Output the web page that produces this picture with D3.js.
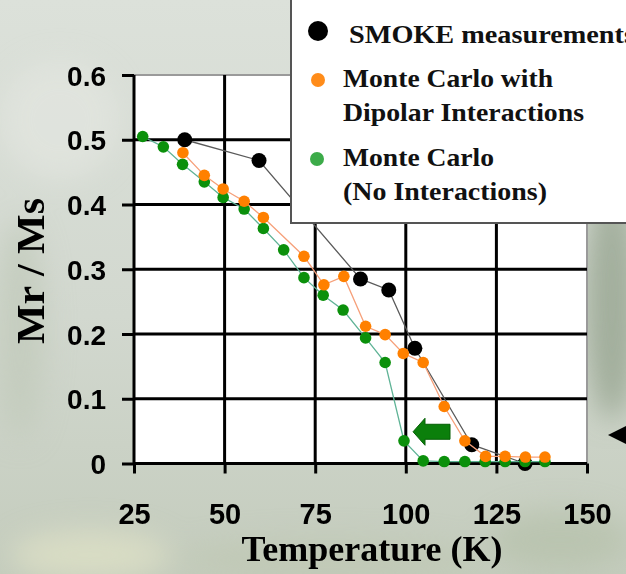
<!DOCTYPE html>
<html lang="en">
<head>
    <meta charset="UTF-8">
    <script src="https://d3js.org/d3.v7.min.js"></script>
    <title>Mr / Ms vs Temperature</title>
    <style>
      body { margin: 0; padding: 0; overflow: hidden; }
      svg { display: block; }
    </style>
</head>
<body>
    <div id="chart"></div>
<script>

// ---- data ----
var smokeT = [39, 59.5, 87.5, 95.3, 102.5, 118.2, 132.9];
var smokeV = [0.500, 0.468, 0.285, 0.268, 0.178, 0.029, 0.000];

var dipoleT = [38.5, 44.4, 49.6, 55.4, 60.7, 71.9, 77.4, 82.9, 88.9, 94.3, 99.3, 104.8, 110.6, 116.3, 122.0, 127.4, 133.0, 138.4];
var dipoleV = [0.480, 0.445, 0.424, 0.405, 0.380, 0.320, 0.276, 0.289, 0.212, 0.199, 0.170, 0.156, 0.088, 0.035, 0.011, 0.011, 0.010, 0.010];

var noIntT = [27.4, 33.1, 38.4, 44.4, 49.6, 55.4, 60.7, 66.3, 71.9, 77.2, 82.7, 88.9, 94.3, 99.5, 104.8, 110.6, 116.3, 121.9, 127.4, 132.9, 138.4];
var noIntV = [0.505, 0.489, 0.462, 0.435, 0.411, 0.393, 0.363, 0.330, 0.287, 0.260, 0.237, 0.194, 0.156, 0.035, 0.004, 0.003, 0.003, 0.003, 0.003, 0.003, 0.003];

var xTicks = [25, 50, 75, 100, 125, 150];
var yTicks = [0, 0.1, 0.2, 0.3, 0.4, 0.5, 0.6];

var legendLabels = [["SMOKE measurements"], ["Monte Carlo with", "Dipolar Interactions"], ["Monte Carlo", "(No Interactions)"]];

// green arrow annotation (temperature / value)
var arrowTip = [102.0, 0.049];
var arrowHeadBack = 105.3, arrowEnd = 112.2;

// ---- layout ----
var W = 626, H = 574;
var margin = {top: 75, right: 39, bottom: 110.5, left: 134},
    width = W - margin.left - margin.right,
    height = H - margin.top - margin.bottom;

var svg = d3.select("#chart")
  .append("svg")
    .attr("width", W)
    .attr("height", H);

// blurred photo-like background
var defs = svg.append("defs");
var bg = defs.append("linearGradient").attr("id", "bgGrad")
    .attr("x1", 0).attr("y1", 0).attr("x2", 0).attr("y2", 1);
bg.append("stop").attr("offset", "0%").attr("stop-color", "#dce1da");
bg.append("stop").attr("offset", "55%").attr("stop-color", "#d2d8cf");
bg.append("stop").attr("offset", "100%").attr("stop-color", "#c4ccbd");
defs.append("filter").attr("id", "blur")
    .attr("x", "-50%").attr("y", "-50%").attr("width", "200%").attr("height", "200%")
  .append("feGaussianBlur").attr("stdDeviation", 14);

svg.append("rect").attr("width", W).attr("height", H).attr("fill", "url(#bgGrad)");

var blobs = svg.append("g").attr("filter", "url(#blur)");
[
  [612, 300, 28, 120, "#8d9c86", 0.7],
  [615, 140, 22, 70, "#a7b2a0", 0.6],
  [20, 330, 25, 110, "#c2cbbc", 0.8],
  [90, 555, 80, 25, "#dde0c6", 0.8],
  [330, 560, 150, 20, "#bfc8b4", 0.8],
  [560, 540, 70, 30, "#b5c0aa", 0.7],
  [60, 120, 60, 60, "#e2e6df", 0.7]
].forEach(function(b) {
  blobs.append("ellipse")
    .attr("cx", b[0]).attr("cy", b[1]).attr("rx", b[2]).attr("ry", b[3])
    .attr("fill", b[4]).attr("opacity", b[5]);
});

var g = svg.append("g")
    .attr("transform", "translate(" + margin.left + "," + margin.top + ")");

// scales
var x = d3.scaleLinear().domain([25, 150]).range([0, width]);
var y = d3.scaleLinear().domain([0, 0.6]).range([height, 0]);

// white plot area with grey frame
g.append("rect")
    .attr("width", width)
    .attr("height", height)
    .attr("fill", "#ffffff")
    .attr("stroke", "#9a9a9a")
    .attr("stroke-width", 2);

// grid lines
g.append("g").selectAll("line")
  .data(yTicks.filter(function(d) { return d > 0 && d < 0.6; }))
  .enter().append("line")
    .attr("x1", 0).attr("x2", width)
    .attr("y1", function(d) { return y(d); })
    .attr("y2", function(d) { return y(d); })
    .attr("stroke", "#000").attr("stroke-width", 3);

g.append("g").selectAll("line")
  .data(xTicks.filter(function(d) { return d > 25 && d < 150; }))
  .enter().append("line")
    .attr("y1", 0).attr("y2", height)
    .attr("x1", function(d) { return x(d); })
    .attr("x2", function(d) { return x(d); })
    .attr("stroke", "#000").attr("stroke-width", 3);

// axes
var yAxis = g.append("g")
    .call(d3.axisLeft(y).tickValues(yTicks).tickSize(12).tickPadding(16)
      .tickFormat(function(d) { return d === 0 ? "0" : d3.format(".1f")(d); }));
var xAxis = g.append("g")
    .attr("transform", "translate(0," + height + ")")
    .call(d3.axisBottom(x).tickValues(xTicks).tickSize(10).tickPadding(30));

[yAxis, xAxis].forEach(function(a) {
  a.select(".domain").attr("stroke", "#000").attr("stroke-width", 3)
      .attr("d", a === yAxis ? "M0," + height + "V0" : "M0,0H" + width);
  a.selectAll(".tick line").attr("stroke", "#000").attr("stroke-width", 3);
  a.selectAll(".tick text")
      .attr("fill", "#000")
      .style("font-family", "'Liberation Sans', Arial, sans-serif")
      .style("font-weight", "bold")
      .style("font-size", "28px");
});
yAxis.selectAll(".tick text").attr("dy", "0.36em");
xAxis.selectAll(".tick text").attr("dy", "0.71em").style("font-size", "29px");

// axis titles
svg.append("text")
    .attr("x", 372)
    .attr("y", 561)
    .attr("text-anchor", "middle")
    .style("font-family", "'Liberation Serif', 'Times New Roman', serif")
    .style("font-weight", "bold")
    .style("font-size", "36px")
    .text("Temperature (K)");

svg.append("text")
    .attr("transform", "translate(44,271) rotate(-90)")
    .attr("text-anchor", "middle")
    .attr("textLength", 146)
    .attr("lengthAdjust", "spacingAndGlyphs")
    .style("font-family", "'Liberation Serif', 'Times New Roman', serif")
    .style("font-weight", "bold")
    .style("font-size", "40px")
    .text("Mr / Ms");

// series
var series = [
  {t: smokeT, v: smokeV, line: "#5a5a5a", fill: "#000000", r: 7.5},
  {t: noIntT, v: noIntV, line: "#5fb396", fill: "#0b900b", r: 5.8},
  {t: dipoleT, v: dipoleV, line: "#f6a07a", fill: "#ff8000", r: 5.8}
];

var lineGen = d3.line()
    .x(function(d) { return x(d[0]); })
    .y(function(d) { return y(d[1]); });

series.forEach(function(s) {
  var pts = s.t.map(function(t, i) { return [t, s.v[i]]; });
  g.append("path")
      .datum(pts)
      .attr("d", lineGen)
      .attr("fill", "none")
      .attr("stroke", s.line)
      .attr("stroke-width", 1.3);
  g.append("g").selectAll("circle")
    .data(pts)
    .enter().append("circle")
      .attr("cx", function(d) { return x(d[0]); })
      .attr("cy", function(d) { return y(d[1]); })
      .attr("r", s.r)
      .attr("fill", s.fill);
});

// green arrow
var tipX = x(arrowTip[0]), tipY = y(arrowTip[1]),
    backX = x(arrowHeadBack), endX = x(arrowEnd);
g.append("path")
    .attr("d", "M" + tipX + "," + tipY +
               "L" + backX + "," + (tipY - 13.5) +
               "L" + backX + "," + (tipY - 7.5) +
               "L" + endX + "," + (tipY - 7.5) +
               "L" + endX + "," + (tipY + 7.5) +
               "L" + backX + "," + (tipY + 7.5) +
               "L" + backX + "," + (tipY + 13.5) + "Z")
    .attr("fill", "#0b7f0b")
    .attr("stroke", "#066006")
    .attr("stroke-width", 1);

// legend box
var legend = svg.append("g");
legend.append("rect")
    .attr("x", 291).attr("y", -10)
    .attr("width", 400).attr("height", 233)
    .attr("fill", "#ffffff")
    .attr("stroke", "#555")
    .attr("stroke-width", 2);

var legendDots = [
  {cx: 318, cy: 31, r: 10, fill: "#000000"},
  {cx: 318, cy: 80, r: 7, fill: "#ff8c1a"},
  {cx: 317, cy: 159, r: 7, fill: "#3cab49"}
];
legend.selectAll("circle.ld")
  .data(legendDots)
  .enter().append("circle")
    .attr("class", "ld")
    .attr("cx", function(d) { return d.cx; })
    .attr("cy", function(d) { return d.cy; })
    .attr("r", function(d) { return d.r; })
    .attr("fill", function(d) { return d.fill; });

var legendLines = [
  {x: 349, y: 43, w: 286, s: legendLabels[0][0]},
  {x: 343, y: 87, w: 210, s: legendLabels[1][0]},
  {x: 343, y: 121, w: 241, s: legendLabels[1][1]},
  {x: 343, y: 166, w: 151, s: legendLabels[2][0]},
  {x: 343, y: 200, w: 204, s: legendLabels[2][1]}
];
legend.selectAll("text")
  .data(legendLines)
  .enter().append("text")
    .attr("x", function(d) { return d.x; })
    .attr("y", function(d) { return d.y; })
    .attr("textLength", function(d) { return d.w; })
    .attr("lengthAdjust", "spacingAndGlyphs")
    .style("font-family", "'Liberation Serif', 'Times New Roman', serif")
    .style("font-weight", "bold")
    .style("font-size", "26px")
    .attr("fill", "#111")
    .text(function(d) { return d.s; });

// black pointer at right edge
svg.append("path")
    .attr("d", "M608,435L630,424L630,446Z")
    .attr("fill", "#000");

</script>
</body>
</html>
